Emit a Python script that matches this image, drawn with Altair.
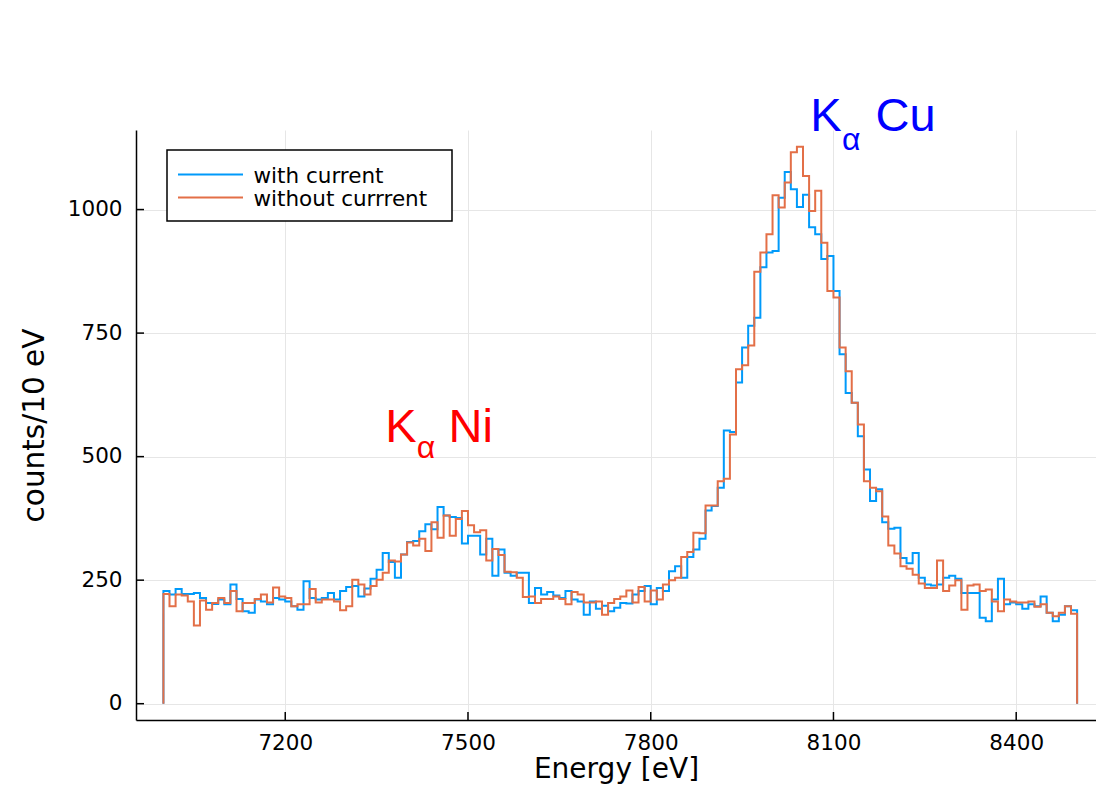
import altair as alt
import pandas as pd

# ---------------- data (counts per 10 eV bin, bins start at 7000 eV) ----------------
bin_start = 7000
bin_width = 10

with_current = [
    228, 221, 232, 222, 222, 224, 214, 204, 202, 211,
    201, 241, 212, 187, 184, 211, 207, 201, 214, 211,
    207, 197, 190, 248, 214, 211, 214, 224, 211, 228,
    236, 238, 217, 233, 253, 271, 305, 287, 255, 302,
    327, 329, 349, 363, 353, 398, 381, 378, 376, 324,
    340, 340, 302, 334, 259, 312, 265, 259, 265, 265,
    204, 234, 221, 226, 219, 214, 228, 211, 207, 180,
    207, 192, 198, 187, 194, 204, 203, 221, 228, 238,
    201, 234, 228, 268, 278, 255, 297, 312, 334, 391,
    400, 437, 553, 550, 650, 721, 765, 781, 883, 913,
    916, 1024, 1076, 1041, 1005, 1030, 964, 950, 900, 906,
    835, 707, 629, 609, 541, 474, 410, 434, 367, 354,
    356, 295, 284, 305, 255, 241, 239, 241, 255, 259,
    253, 224, 224, 224, 174, 167, 211, 253, 201, 205,
    201, 192, 201, 197, 217, 184, 167, 180, 197, 189,
]

without_current = [
    222, 197, 221, 219, 207, 158, 209, 190, 204, 214,
    204, 228, 187, 204, 204, 212, 221, 205, 235, 217,
    214, 197, 201, 201, 232, 205, 211, 211, 207, 189,
    197, 251, 241, 221, 238, 251, 265, 290, 288, 302,
    326, 320, 334, 309, 367, 336, 381, 340, 374, 390,
    361, 347, 351, 290, 313, 301, 267, 266, 255, 216,
    217, 204, 212, 212, 217, 212, 201, 226, 221, 205,
    205, 207, 180, 204, 212, 217, 229, 205, 236, 207,
    229, 211, 241, 250, 255, 297, 307, 346, 345, 401,
    401, 450, 455, 545, 677, 685, 725, 874, 913, 950,
    1029, 1004, 1055, 1116, 1127, 1068, 997, 1038, 933, 835,
    822, 721, 673, 609, 565, 450, 437, 430, 379, 320,
    304, 278, 273, 261, 243, 234, 234, 290, 228, 239,
    250, 190, 239, 241, 228, 231, 207, 187, 211, 207,
    205, 205, 207, 196, 201, 184, 177, 184, 197, 182,
]

series_names = ["with current", "without currrent"]
series_colors = ["#009AFA", "#E36F47"]
x_ticks = [7200, 7500, 7800, 8100, 8400]
y_ticks = [0, 250, 500, 750, 1000]

# annotation pieces: text, energy, counts, font size, colour
ann_text = ["K", "\u03b1", "Ni", "K", "\u03b1", "Cu"]
ann_energy = [7364, 7416, 7468, 8062, 8114, 8169]
ann_counts = [530, 497, 530, 1158, 1121, 1158]
ann_size = [47, 32, 47, 47, 32, 47]
ann_color = ["#FF0000", "#FF0000", "#FF0000", "#0000FF", "#0000FF", "#0000FF"]

# ---------------- layout ----------------
W, H = 960, 590
X_DOMAIN = [6955, 8531]
Y_DOMAIN = [-33, 1161]
FONT = "DejaVu Sans"


def step_table(values, name):
    rows = [{"energy": bin_start, "counts": 0, "order": 0, "series": name}]
    for k, v in enumerate(values):
        rows.append({"energy": bin_start + k * bin_width, "counts": v,
                     "order": k + 1, "series": name})
    rows.append({"energy": bin_start + len(values) * bin_width, "counts": 0,
                 "order": len(values) + 1, "series": name})
    return pd.DataFrame(rows)


x_enc = alt.X(
    "energy:Q",
    scale=alt.Scale(domain=X_DOMAIN, nice=False, zero=False),
    axis=alt.Axis(values=x_ticks, title="Energy [eV]", format="d",
                  labelPadding=12, titleBaseline="alphabetic", titleY=57,
                  titleFontSize=28),
)
y_enc = alt.Y(
    "counts:Q",
    scale=alt.Scale(domain=Y_DOMAIN, nice=False, zero=False),
    axis=alt.Axis(values=y_ticks, title="counts/10 eV", format="d",
                  labelPadding=14, titlePadding=18),
)

layers = []
for vals, name, col in zip([with_current, without_current], series_names, series_colors):
    layers.append(
        alt.Chart(step_table(vals, name))
        .mark_line(interpolate="step-after", strokeWidth=2, color=col, clip=True)
        .encode(x=x_enc, y=y_enc, order="order:Q")
    )

# inward tick marks
xt = (
    alt.Chart(pd.DataFrame({"energy": x_ticks}))
    .mark_rule(color="black", strokeWidth=1.5)
    .encode(x=alt.X("energy:Q"), y=alt.value(H - 8), y2=alt.value(H))
)
yt = (
    alt.Chart(pd.DataFrame({"counts": y_ticks}))
    .mark_rule(color="black", strokeWidth=1.5)
    .encode(y=alt.Y("counts:Q"), x=alt.value(0), x2=alt.value(8))
)
layers += [xt, yt]

# annotations
for t, e, c, s, col in zip(ann_text, ann_energy, ann_counts, ann_size, ann_color):
    layers.append(
        alt.Chart(pd.DataFrame({"energy": [e], "counts": [c], "label": [t]}))
        .mark_text(align="left", baseline="alphabetic", font="Liberation Sans",
                   fontSize=s, color=col)
        .encode(x="energy:Q", y="counts:Q", text="label:N")
    )

# legend box (Plots.jl style)
one = pd.DataFrame({"a": [0]})
layers.append(
    alt.Chart(one).mark_rect(fill="white", stroke="black", strokeWidth=1.5)
    .encode(x=alt.value(31), x2=alt.value(316), y=alt.value(20), y2=alt.value(91))
)
for i, (name, col) in enumerate(zip(series_names, series_colors)):
    ly = 44.5 + 23 * i
    layers.append(
        alt.Chart(one).mark_rule(color=col, strokeWidth=2)
        .encode(x=alt.value(42), x2=alt.value(107), y=alt.value(ly))
    )
    layers.append(
        alt.Chart(one).mark_text(align="left", baseline="alphabetic", font=FONT,
                                 fontSize=21.5, color="black")
        .encode(x=alt.value(117.5), y=alt.value(ly + 8), text=alt.value(name))
    )

chart = (
    alt.layer(*layers)
    .properties(
        width=W, height=H,
        autosize=alt.AutoSizeParams(type="none"),
        padding={"left": 128, "top": 122, "right": 0, "bottom": 65},
    )
    .configure_view(stroke=None)
    .configure_axis(
        domainColor="black", domainWidth=1.5,
        grid=True, gridColor="#e6e6e6", gridWidth=1,
        ticks=False,
        labelFont=FONT, labelFontSize=21.5, labelColor="black",
        titleFont=FONT, titleFontSize=29.5, titleFontWeight="normal", titleColor="black",
    )
)

chart.save("out.html", embed_options={"renderer": "svg", "actions": False})
